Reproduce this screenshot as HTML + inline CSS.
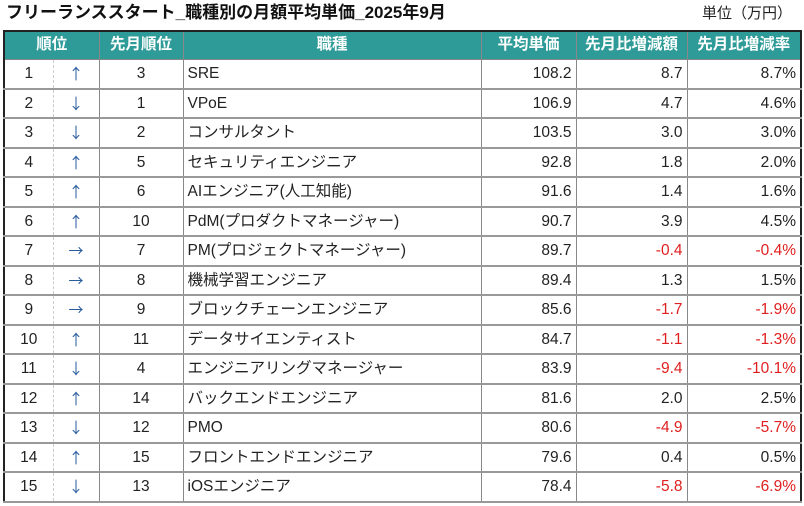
<!DOCTYPE html><html><head><meta charset="utf-8"><style>
body{margin:0;width:804px;height:506px;background:#fff;font-family:"Liberation Sans","Noto Sans CJK JP",sans-serif;position:relative;overflow:hidden}
.t{position:absolute;left:6px;top:2px;font-size:17px;line-height:22px;font-weight:bold;color:#111}
.u{position:absolute;right:12px;top:4px;font-size:15px;line-height:20px;color:#222}
table{position:absolute;left:3px;top:30px;border-collapse:collapse;border:2px solid #222;table-layout:fixed}
td,th{height:27px;line-height:27px;padding:0 4px;font-size:15.5px;color:#222;border:1px solid #888;white-space:nowrap;overflow:hidden;box-sizing:border-box}
tr:nth-child(even) td{height:28px;line-height:28px}
th{background:#2e9b98;color:#fff;font-weight:bold;height:28px;line-height:26px;text-align:center}
tr td{border-bottom:2px solid #999}
.c{text-align:center}.r{text-align:right}
.a{border-left:1px dashed #ccc;color:#2a5d9c;text-align:center;font-family:"Noto Sans CJK JP",sans-serif;font-size:15px}
.rk{border-right:none}
.n{color:#e02020}
</style></head><body>
<div class="t">フリーランススタート_職種別の月額平均単価_2025年9月</div>
<div class="u">単位（万円）</div>
<table>
<colgroup><col style="width:49px"><col style="width:46px"><col style="width:84px"><col style="width:298px"><col style="width:95px"><col style="width:111px"><col style="width:114px"></colgroup>
<tr><th colspan="2">順位</th><th>先月順位</th><th>職種</th><th>平均単価</th><th>先月比増減額</th><th>先月比増減率</th></tr>
<tr><td class="c rk">1</td><td class="a">↑</td><td class="c">3</td><td>SRE</td><td class="r">108.2</td><td class="r">8.7</td><td class="r">8.7%</td></tr>
<tr><td class="c rk">2</td><td class="a">↓</td><td class="c">1</td><td>VPoE</td><td class="r">106.9</td><td class="r">4.7</td><td class="r">4.6%</td></tr>
<tr><td class="c rk">3</td><td class="a">↓</td><td class="c">2</td><td>コンサルタント</td><td class="r">103.5</td><td class="r">3.0</td><td class="r">3.0%</td></tr>
<tr><td class="c rk">4</td><td class="a">↑</td><td class="c">5</td><td>セキュリティエンジニア</td><td class="r">92.8</td><td class="r">1.8</td><td class="r">2.0%</td></tr>
<tr><td class="c rk">5</td><td class="a">↑</td><td class="c">6</td><td>AIエンジニア(人工知能)</td><td class="r">91.6</td><td class="r">1.4</td><td class="r">1.6%</td></tr>
<tr><td class="c rk">6</td><td class="a">↑</td><td class="c">10</td><td>PdM(プロダクトマネージャー)</td><td class="r">90.7</td><td class="r">3.9</td><td class="r">4.5%</td></tr>
<tr><td class="c rk">7</td><td class="a">→</td><td class="c">7</td><td>PM(プロジェクトマネージャー)</td><td class="r">89.7</td><td class="r n">-0.4</td><td class="r n">-0.4%</td></tr>
<tr><td class="c rk">8</td><td class="a">→</td><td class="c">8</td><td>機械学習エンジニア</td><td class="r">89.4</td><td class="r">1.3</td><td class="r">1.5%</td></tr>
<tr><td class="c rk">9</td><td class="a">→</td><td class="c">9</td><td>ブロックチェーンエンジニア</td><td class="r">85.6</td><td class="r n">-1.7</td><td class="r n">-1.9%</td></tr>
<tr><td class="c rk">10</td><td class="a">↑</td><td class="c">11</td><td>データサイエンティスト</td><td class="r">84.7</td><td class="r n">-1.1</td><td class="r n">-1.3%</td></tr>
<tr><td class="c rk">11</td><td class="a">↓</td><td class="c">4</td><td>エンジニアリングマネージャー</td><td class="r">83.9</td><td class="r n">-9.4</td><td class="r n">-10.1%</td></tr>
<tr><td class="c rk">12</td><td class="a">↑</td><td class="c">14</td><td>バックエンドエンジニア</td><td class="r">81.6</td><td class="r">2.0</td><td class="r">2.5%</td></tr>
<tr><td class="c rk">13</td><td class="a">↓</td><td class="c">12</td><td>PMO</td><td class="r">80.6</td><td class="r n">-4.9</td><td class="r n">-5.7%</td></tr>
<tr><td class="c rk">14</td><td class="a">↑</td><td class="c">15</td><td>フロントエンドエンジニア</td><td class="r">79.6</td><td class="r">0.4</td><td class="r">0.5%</td></tr>
<tr><td class="c rk">15</td><td class="a">↓</td><td class="c">13</td><td>iOSエンジニア</td><td class="r">78.4</td><td class="r n">-5.8</td><td class="r n">-6.9%</td></tr>
</table>
</body></html>
